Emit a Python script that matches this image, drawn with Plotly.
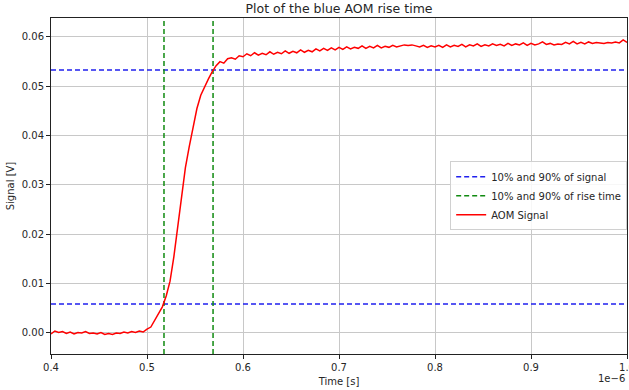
import plotly.graph_objects as go

# ---------------- data (time in units of 1e-6 s, signal in V) ----------------
time_us = [
    0.400, 0.404, 0.408, 0.412, 0.416, 0.420, 0.424, 0.428, 0.432, 0.436,
    0.440, 0.444, 0.448, 0.452, 0.456, 0.460, 0.464, 0.468, 0.472, 0.476,
    0.480, 0.484, 0.488, 0.492, 0.496, 0.500, 0.504, 0.508, 0.512, 0.516,
    0.520, 0.524, 0.528, 0.532, 0.536, 0.540, 0.544, 0.548, 0.552, 0.556,
    0.560, 0.564, 0.568, 0.572, 0.576, 0.580, 0.584, 0.588, 0.592, 0.596,
    0.600, 0.604, 0.608, 0.612, 0.616, 0.620, 0.624, 0.628, 0.632, 0.636,
    0.640, 0.644, 0.648, 0.652, 0.656, 0.660, 0.664, 0.668, 0.672, 0.676,
    0.680, 0.684, 0.688, 0.692, 0.696, 0.700, 0.704, 0.708, 0.712, 0.716,
    0.720, 0.724, 0.728, 0.732, 0.736, 0.740, 0.744, 0.748, 0.752, 0.756,
    0.760, 0.764, 0.768, 0.772, 0.776, 0.780, 0.784, 0.788, 0.792, 0.796,
    0.800, 0.804, 0.808, 0.812, 0.816, 0.820, 0.824, 0.828, 0.832, 0.836,
    0.840, 0.844, 0.848, 0.852, 0.856, 0.860, 0.864, 0.868, 0.872, 0.876,
    0.880, 0.884, 0.888, 0.892, 0.896, 0.900, 0.904, 0.908, 0.912, 0.916,
    0.920, 0.924, 0.928, 0.932, 0.936, 0.940, 0.944, 0.948, 0.952, 0.956,
    0.960, 0.964, 0.968, 0.972, 0.976, 0.980, 0.984, 0.988, 0.992, 0.996,
    1.000,
]
signal_v = [
    -0.0002, 0.0004, 0.0001, 0.0003, -0.0001, 0.0002, -0.0002, 0.0001, 0.0000, 0.0003,
    -0.0001, 0.0000, -0.0002, 0.0001, -0.0003, -0.0001, -0.0003, 0.0000, -0.0001, 0.0002,
    0.0000, 0.0003, 0.0001, 0.0004, 0.0002, 0.0008, 0.0012, 0.0025, 0.0038, 0.0053,
    0.0075, 0.0105, 0.0155, 0.0215, 0.0285, 0.0335, 0.0378, 0.0418, 0.0455, 0.0482,
    0.0500, 0.0515, 0.0530, 0.0542, 0.0550, 0.0547, 0.0556, 0.0558, 0.0555, 0.0562,
    0.0560, 0.0566, 0.0562, 0.0568, 0.0563, 0.0567, 0.0564, 0.0570, 0.0565, 0.0569,
    0.0566, 0.0572, 0.0567, 0.0571, 0.0568, 0.0574, 0.0569, 0.0573, 0.0570, 0.0576,
    0.0572, 0.0577, 0.0573, 0.0578, 0.0574, 0.0579, 0.0575, 0.0580, 0.0576, 0.0579,
    0.0577, 0.0582, 0.0577, 0.0581, 0.0578, 0.0583, 0.0578, 0.0581, 0.0579, 0.0583,
    0.0580, 0.0582, 0.0584, 0.0583, 0.0584, 0.0582, 0.0580, 0.0583, 0.0579, 0.0582,
    0.0580, 0.0583, 0.0579, 0.0584, 0.0580, 0.0583, 0.0581, 0.0585, 0.0580, 0.0584,
    0.0582, 0.0586, 0.0581, 0.0584, 0.0582, 0.0586, 0.0583, 0.0585, 0.0582, 0.0587,
    0.0583, 0.0586, 0.0584, 0.0588, 0.0583, 0.0587, 0.0584, 0.0586, 0.0590, 0.0585,
    0.0587, 0.0584, 0.0586, 0.0585, 0.0589, 0.0586, 0.0591, 0.0586, 0.0589, 0.0586,
    0.0590, 0.0587, 0.0589, 0.0588, 0.0587, 0.0589, 0.0588, 0.0590, 0.0588, 0.0594,
    0.0589,
]
signal_levels = [0.0059, 0.0533]      # 10% and 90% of signal [V]
rise_times_us = [0.5177, 0.5688]      # 10% and 90% of rise time [1e-6 s]

x_ticks = [0.4, 0.5, 0.6, 0.7, 0.8, 0.9, 1.0]
x_tick_labels = ["0.4", "0.5", "0.6", "0.7", "0.8", "0.9", "1.0"]
y_ticks = [0.00, 0.01, 0.02, 0.03, 0.04, 0.05, 0.06]
y_tick_labels = ["0.00", "0.01", "0.02", "0.03", "0.04", "0.05", "0.06"]

x_range = [0.4, 1.0]
y_range = [-0.00426, 0.06385]

# ---------------- figure ----------------
font_family = "DejaVu Sans, Liberation Sans, sans-serif"

hx, hy = [], []
for lv in signal_levels:
    hx += [x_range[0], x_range[1], None]
    hy += [lv, lv, None]
vx, vy = [], []
for t in rise_times_us:
    vx += [t, t, None]
    vy += [y_range[0], y_range[1], None]

fig = go.Figure()
fig.add_trace(go.Scatter(x=hx, y=hy, mode="lines", name="10% and 90% of signal",
                         line=dict(color="#2020ee", width=1.5, dash="5px,3px")))
fig.add_trace(go.Scatter(x=vx, y=vy, mode="lines", name="10% and 90% of rise time",
                         line=dict(color="#108a10", width=1.5, dash="5px,3px")))
fig.add_trace(go.Scatter(x=time_us, y=signal_v, mode="lines", name="AOM Signal",
                         line=dict(color="#ff0000", width=1.5)))

axis_common = dict(
    showgrid=True, gridcolor="#c8c8c8", gridwidth=1,
    showline=True, linecolor="#222222", linewidth=1, mirror=True,
    ticks="outside", ticklen=4, tickcolor="#222222", tickwidth=1,
    zeroline=False, automargin=False, ticklabeloverflow="allow",
    tickfont=dict(family=font_family, size=10, color="#262626"),
)

fig.update_layout(
    width=629, height=390,
    margin=dict(l=51, r=2, t=18, b=36, autoexpand=False),
    paper_bgcolor="white", plot_bgcolor="white",
    font=dict(family=font_family, color="#262626"),
    title=dict(text="Plot of the blue AOM rise time", x=(51 + 627) / 2 / 629, xanchor="center",
               y=1 - 9 / 390, yanchor="middle",
               font=dict(family=font_family, size=12.5, color="#262626")),
    xaxis=dict(range=x_range, tickvals=x_ticks, ticktext=x_tick_labels,
               title=dict(text="Time [s]", font=dict(size=10), standoff=5),
               **axis_common),
    yaxis=dict(range=y_range, tickvals=y_ticks, ticktext=y_tick_labels,
               title=dict(text="Signal [V]", font=dict(size=10), standoff=5),
               **axis_common),
    showlegend=True,
    legend=dict(x=0.693, y=0.574, xanchor="left", yanchor="top",
                bgcolor="rgba(255,255,255,0.85)", bordercolor="#d0d0d0", borderwidth=1,
                font=dict(family=font_family, size=10, color="#262626"),
                tracegroupgap=0, itemwidth=30),
    annotations=[dict(text="1e\u22126", xref="paper", yref="paper", x=1.0, y=0,
                      xanchor="right", yanchor="top", yshift=-17, showarrow=False,
                      font=dict(family=font_family, size=10, color="#262626"))],
)

fig.write_html(
    "out.html",
    config={"displayModeBar": False, "responsive": False},
    post_script=("document.documentElement.style.overflow='hidden';"
                 "document.body.style.margin='0px';document.body.style.padding='0px';"
                 "document.body.style.overflow='hidden';"),
)
